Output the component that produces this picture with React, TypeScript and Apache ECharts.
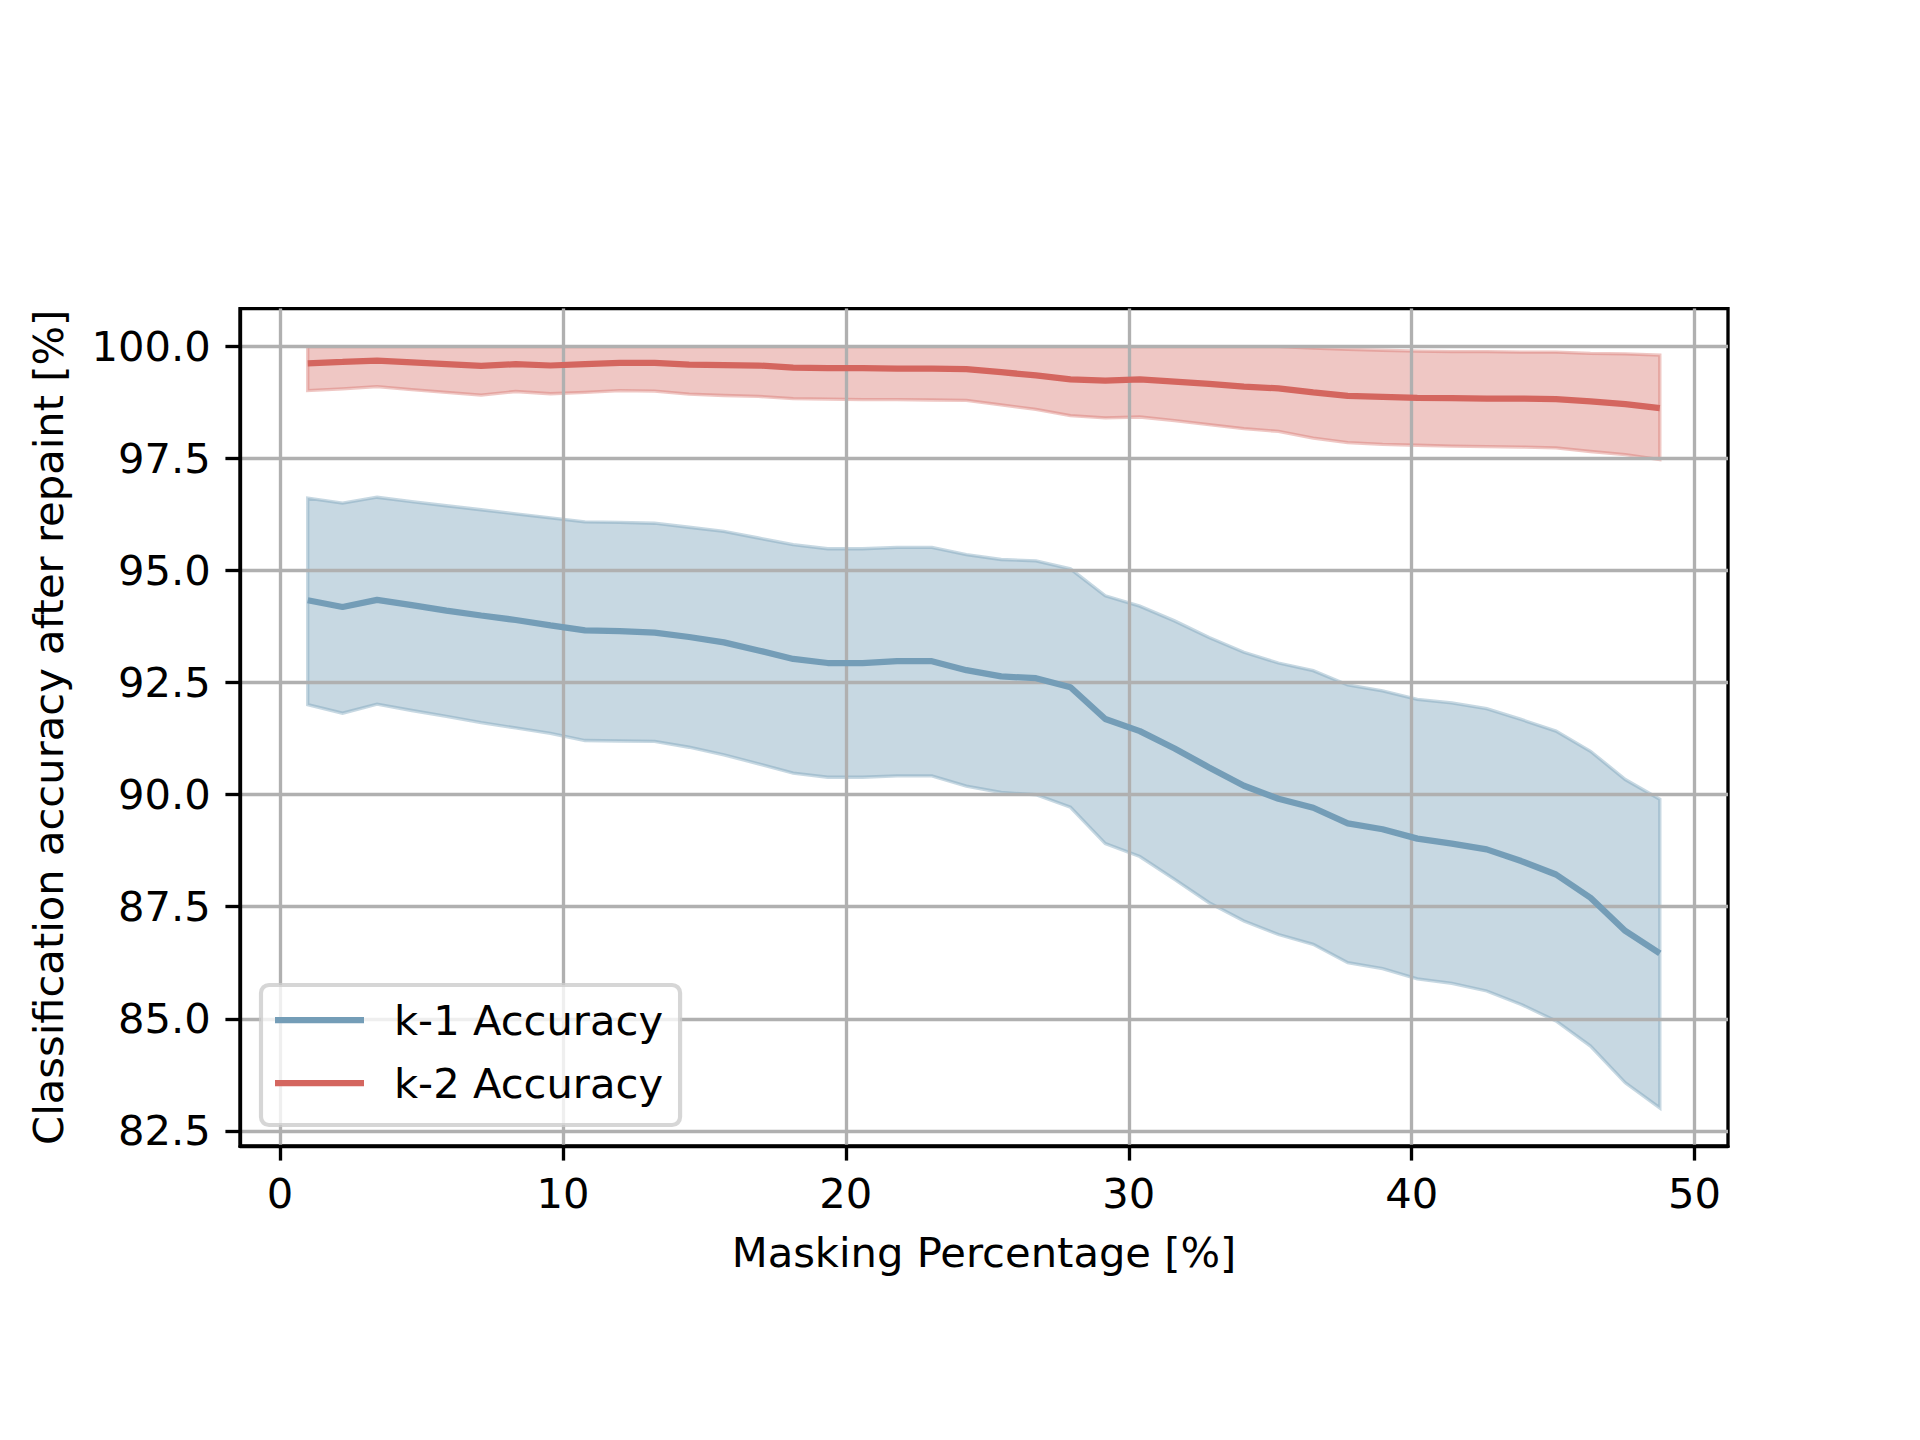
import React, { useEffect, useRef } from "react";
import * as echarts from "echarts";

// Masking percentage (x) for every sample
const maskingPct = [
  0.98, 2.21, 3.43, 4.66, 5.88, 7.11, 8.33, 9.56, 10.78, 12.01,
  13.24, 14.46, 15.69, 16.91, 18.14, 19.36, 20.59, 21.81, 23.04, 24.26,
  25.49, 26.72, 27.94, 29.17, 30.39, 31.62, 32.84, 34.07, 35.29, 36.52,
  37.74, 38.97, 40.2, 41.42, 42.65, 43.87, 45.1, 46.32, 47.55, 48.77,
];

// k-1 accuracy: mean and band
const k1Mean = [
  94.34, 94.19, 94.35, 94.23, 94.11, 94.0, 93.9, 93.78, 93.67, 93.65,
  93.62, 93.52, 93.4, 93.22, 93.03, 92.94, 92.94, 92.98, 92.98, 92.78,
  92.64, 92.6, 92.4, 91.69, 91.42, 91.03, 90.61, 90.2, 89.91, 89.71,
  89.36, 89.23, 89.02, 88.91, 88.78, 88.52, 88.22, 87.7, 86.96, 86.46,
];
const k1Upper = [
  96.62, 96.51, 96.64, 96.54, 96.45, 96.36, 96.27, 96.18, 96.09, 96.08,
  96.06, 95.97, 95.88, 95.73, 95.58, 95.49, 95.49, 95.52, 95.52, 95.36,
  95.25, 95.22, 95.04, 94.44, 94.21, 93.88, 93.51, 93.18, 92.94, 92.77,
  92.45, 92.32, 92.13, 92.05, 91.92, 91.68, 91.42, 90.97, 90.34, 89.9,
];
const k1Lower = [
  92.01, 91.82, 92.02, 91.88, 91.75, 91.61, 91.49, 91.37, 91.21, 91.2,
  91.19, 91.06, 90.89, 90.69, 90.48, 90.39, 90.39, 90.42, 90.42, 90.19,
  90.05, 90.0, 89.72, 88.91, 88.62, 88.11, 87.59, 87.18, 86.88, 86.66,
  86.25, 86.12, 85.89, 85.79, 85.62, 85.32, 84.95, 84.39, 83.57, 83.01,
];

// k-2 accuracy: mean and band
const k2Mean = [
  99.63, 99.66, 99.69, 99.65, 99.61, 99.57, 99.61, 99.58, 99.61, 99.64,
  99.64, 99.6, 99.59, 99.58, 99.53, 99.52, 99.52, 99.51, 99.51, 99.5,
  99.43, 99.36, 99.27, 99.24, 99.27, 99.22, 99.17, 99.11, 99.07, 98.98,
  98.9, 98.88, 98.86, 98.85, 98.84, 98.84, 98.83, 98.78, 98.72, 98.63,
];
const k2Upper = [
  100.0, 100.0, 100.0, 100.0, 100.0, 100.0, 100.0, 100.0, 100.0, 100.0,
  100.0, 100.0, 100.0, 100.0, 100.0, 100.0, 100.0, 100.0, 100.0, 100.0,
  100.0, 100.0, 100.0, 100.0, 100.0, 100.0, 100.0, 100.0, 100.0, 99.97,
  99.94, 99.92, 99.9, 99.89, 99.89, 99.88, 99.88, 99.85, 99.84, 99.81,
];
const k2Lower = [
  99.02, 99.06, 99.11, 99.04, 98.98, 98.92, 99.0, 98.95, 98.98, 99.02,
  99.01, 98.94, 98.91, 98.89, 98.84, 98.83, 98.82, 98.82, 98.81, 98.8,
  98.7, 98.6, 98.46, 98.41, 98.43, 98.35, 98.26, 98.17, 98.11, 97.96,
  97.86, 97.82, 97.8, 97.78, 97.77, 97.76, 97.74, 97.66, 97.59, 97.48,
];

const xTicks = [0, 10, 20, 30, 40, 50];
const yTicks = [82.5, 85, 87.5, 90, 92.5, 95, 97.5, 100];

const seriesNames = ["k-1 Accuracy", "k-2 Accuracy"];
const xName = "Masking Percentage [%]";
const yName = "Classification accuracy after repaint [%]";

const PT = 300 / 72;
const FS = 10 * PT;
const FONT = "DejaVu Sans";
const BLUE = "#749db7";
const RED = "#d4665f";
const BLUE_FILL = "rgba(116,157,183,0.4)";
const RED_FILL = "rgba(212,102,95,0.37)";

function bandSeries(name: string, lower: number[], upper: number[], color: string) {
  return {
    type: "custom",
    name,
    silent: true,
    clip: true,
    z: -1,
    data: maskingPct.map((x, i) => [x, lower[i], upper[i]]),
    encode: { x: 0, y: [1, 2] },
    renderItem: (params: any, api: any) => {
      if (params.dataIndex !== 0) return null;
      const pts: number[][] = [];
      for (let i = 0; i < maskingPct.length; i++) pts.push(api.coord([maskingPct[i], upper[i]]));
      for (let i = maskingPct.length - 1; i >= 0; i--) pts.push(api.coord([maskingPct[i], lower[i]]));
      return {
        type: "polygon",
        shape: { points: pts },
        style: { fill: color, stroke: color, lineWidth: PT * 0.8 },
      };
    },
  };
}

export default function App() {
  const ref = useRef<HTMLDivElement>(null);

  useEffect(() => {
    document.body.style.margin = "0";
    if (!ref.current) return;
    const chart = echarts.init(ref.current, undefined, { renderer: "svg" });
    const axisText = { fontSize: FS, fontFamily: FONT, color: "#000" };
    chart.setOption({
      animation: false,
      backgroundColor: "#fff",
      grid: {
        left: 240,
        right: 192,
        top: 308.6,
        bottom: 294,
        show: true,
        borderColor: "#000",
        borderWidth: 0.8 * PT,
        backgroundColor: "transparent",
        outerBoundsMode: "none",
      },
      legend: {
        orient: "vertical",
        left: 261,
        top: 985,
        data: [
          { name: seriesNames[0], icon: "rect" },
          { name: seriesNames[1], icon: "rect" },
        ],
        itemWidth: 89,
        itemHeight: 1.5 * PT,
        itemGap: 21,
        padding: [14, 17, 21, 14],
        backgroundColor: "rgba(255,255,255,0.8)",
        borderColor: "rgba(204,204,204,0.8)",
        borderWidth: PT,
        borderRadius: 8,
        selectedMode: false,
        textStyle: {
          fontSize: FS,
          fontFamily: FONT,
          color: "#000",
          lineHeight: 42,
          padding: [0, 0, 0, 25],
        },
      },
      xAxis: {
        type: "value",
        min: -1.414,
        max: 51.18,
        name: xName,
        nameLocation: "middle",
        nameGap: 85,
        nameTextStyle: axisText,
        axisLine: { show: true, onZero: false, lineStyle: { color: "#000", width: 0.8 * PT } },
        axisTick: {
          show: true,
          length: 3.5 * PT,
          customValues: xTicks,
          lineStyle: { color: "#000", width: 0.8 * PT },
        },
        axisLabel: { ...axisText, margin: 7 * PT - 2.5, customValues: xTicks, formatter: (v: number) => String(v) },
        splitLine: { show: true, lineStyle: { color: "#b0b0b0", width: 0.8 * PT } },
      },
      yAxis: {
        type: "value",
        min: 82.16,
        max: 100.85,
        name: yName,
        nameLocation: "middle",
        nameGap: 171,
        nameRotate: 90,
        nameTextStyle: axisText,
        axisLine: { show: true, onZero: false, lineStyle: { color: "#000", width: 0.8 * PT } },
        axisTick: {
          show: true,
          length: 3.5 * PT,
          customValues: yTicks,
          lineStyle: { color: "#000", width: 0.8 * PT },
        },
        axisLabel: {
          ...axisText,
          margin: 7 * PT,
          customValues: yTicks,
          formatter: (v: number) => v.toFixed(1),
        },
        splitLine: { show: true, lineStyle: { color: "#b0b0b0", width: 0.8 * PT } },
      },
      series: [
        bandSeries("k-1 band", k1Lower, k1Upper, BLUE_FILL),
        bandSeries("k-2 band", k2Lower, k2Upper, RED_FILL),
        {
          type: "line",
          name: seriesNames[0],
          data: maskingPct.map((x, i) => [x, k1Mean[i]]),
          symbol: "none",
          lineStyle: { color: BLUE, width: 1.5 * PT },
          itemStyle: { color: BLUE },
          z: 3,
        },
        {
          type: "line",
          name: seriesNames[1],
          data: maskingPct.map((x, i) => [x, k2Mean[i]]),
          symbol: "none",
          lineStyle: { color: RED, width: 1.5 * PT },
          itemStyle: { color: RED },
          z: 3,
        },
      ],
    });
    return () => chart.dispose();
  }, []);

  return <div ref={ref} style={{ width: 1920, height: 1440 }} />;
}
